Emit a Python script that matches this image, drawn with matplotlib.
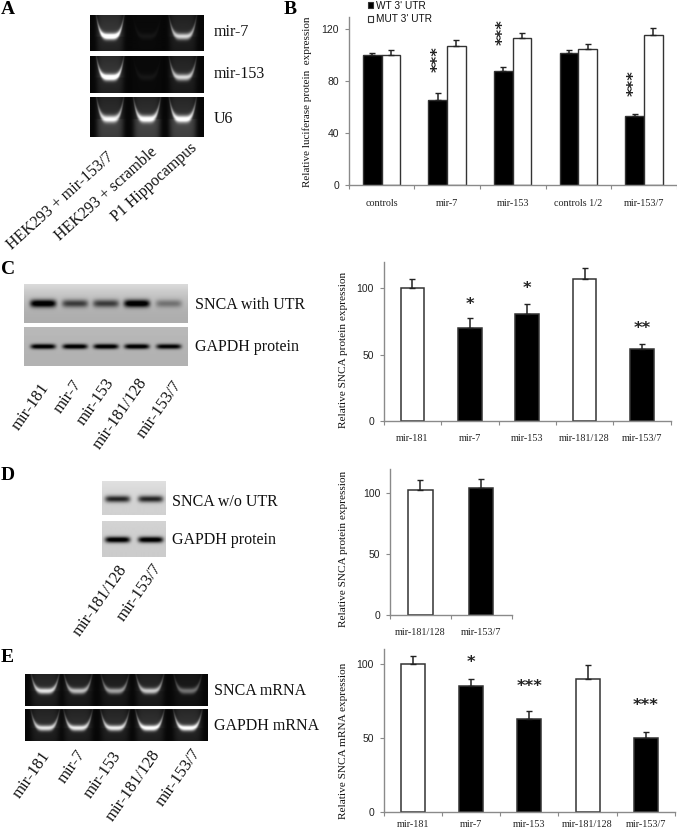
import numpy as np
import matplotlib
matplotlib.use("Agg")
import matplotlib.pyplot as plt

W, H = 677, 831
SERIF = "Liberation Serif"
SANS = "Liberation Sans"

# panel B
b_cats = ["controls", "mir-7", "mir-153", "controls 1/2", "mir-153/7"]
b_wt = [100, 66, 88, 102, 53]
b_wt_top = [102, 71, 91, 104, 55]
b_mut = [100, 107, 113, 105, 116]
b_mut_top = [104, 111.5, 117, 109, 121]
b_stars = [None, 97, 117.5, None, 78.5]

# panel C
c_cats = ["mir-181", "mir-7", "mir-153", "mir-181/128", "mir-153/7"]
c_vals = [100, 70, 81, 107, 54]
c_tops = [107, 77.5, 88, 115, 58]
c_fill = ["w", "k", "k", "w", "k"]
c_stars = [None, ("*", 87.7), ("*", 99.7), None, ("**", 70)]

# panel D
d_cats = ["mir-181/128", "mir-153/7"]
d_vals = [103, 104]
d_tops = [110.5, 112]
d_fill = ["w", "k"]

# panel E
e_cats = ["mir-181", "mir-7", "mir-153", "mir-181/128", "mir-153/7"]
e_vals = [100, 85, 63, 90, 50]
e_tops = [105, 90, 68, 99, 54]
e_fill = ["w", "k", "k", "w", "k"]
e_stars = [None, ("*", 100.9), ("***", 84.5), None, ("***", 71.7)]

# band strength per lane on the gels and blots
a_mir7 = [1.0, 0.05, 0.7]
a_mir153 = [1.0, 0.05, 0.7]
a_u6 = [0.8, 0.85, 0.85]
c_snca = [0.85, 0.5, 0.5, 0.85, 0.28]
c_gapdh = [0.8, 0.8, 0.8, 0.8, 0.75]
d_snca = [0.7, 0.7]
d_gapdh = [0.9, 0.9]
e_snca = [0.75, 0.62, 0.52, 0.66, 0.36]
e_gapdh = [0.75, 0.78, 0.78, 0.88, 0.88]

fig = plt.figure(figsize=(W / 100, H / 100), dpi=100)


def px_axes(x0, y0, x1, y1):
    return fig.add_axes([x0 / W, 1 - y1 / H, (x1 - x0) / W, (y1 - y0) / H])


def px_text(x, y, s, **kw):
    kw.setdefault("family", SERIF)
    kw.setdefault("color", "#111111")
    return fig.text(x / W, 1 - y / H, s, **kw)


def fluor_gel(rect, centers, amps, band_y, half_w=13.5, below=0.1):
    x0, y0, x1, y1 = rect
    xs = np.linspace(x0, x1, int(x1 - x0) * 2)
    ys = np.linspace(0, 1, int(y1 - y0) * 2)
    xx, yy = np.meshgrid(xs, ys)
    img = np.full(xx.shape, 0.03)
    for c, a in zip(centers, amps):
        u = (xx - c) / half_w
        env = np.exp(-np.abs(u) ** 6)
        curve = band_y - 0.5 * np.abs(u) ** 4
        band = np.exp(-((yy - curve) / 0.09) ** 2) * (1 - 0.55 * np.minimum(np.abs(u), 1) ** 3)
        haze = np.where(yy < band_y, 0.14 + 0.12 * yy, below + 0.1 * (1 - yy))
        img += a * env * (band + haze)
    ax = px_axes(*rect)
    ax.imshow(np.clip(img, 0, 1), cmap="gray", vmin=0, vmax=1, aspect="auto",
              interpolation="bilinear")
    ax.axis("off")


def blot(rect, centers, amps, band_y, bg=0.72, half_w=13, thick=0.07, top=0.08):
    x0, y0, x1, y1 = rect
    xs = np.linspace(x0, x1, int(x1 - x0) * 2)
    ys = np.linspace(0, 1, int(y1 - y0) * 2)
    xx, yy = np.meshgrid(xs, ys)
    img = bg + top * (1 - yy) ** 2
    for c, a in zip(centers, amps):
        u = (xx - c) / half_w
        img = img - a * np.exp(-u ** 6) * np.exp(-((yy - band_y) / thick) ** 2)
    ax = px_axes(*rect)
    ax.imshow(np.clip(img, 0, 1), cmap="gray", vmin=0, vmax=1, aspect="auto",
              interpolation="bilinear")
    ax.axis("off")


def slanted(labels, ends, angle=55, size=12):
    for s, (x, y) in zip(labels, ends):
        px_text(x, y, s, rotation=angle, rotation_mode="anchor", ha="right",
                va="center", fontsize=size)


def style_axes(ax, cats, yticks, ymax, pad=9):
    n = len(cats)
    ax.set_xlim(0, n)
    ax.set_ylim(0, ymax)
    for side in ("top", "right"):
        ax.spines[side].set_visible(False)
    for side in ("left", "bottom"):
        ax.spines[side].set_color("#8a8a8a")
        ax.spines[side].set_linewidth(1.0)
    ax.set_xticks(range(n + 1))
    ax.set_xticklabels([])
    ax.set_xticks(np.arange(n) + 0.5, minor=True)
    ax.set_xticklabels(cats, minor=True, family=SERIF, fontsize=7.3, color="#222222")
    ax.tick_params(axis="x", which="major", length=3, width=0.8, color="#8a8a8a")
    ax.tick_params(axis="x", which="minor", length=0, pad=pad)
    ax.set_yticks(yticks)
    ax.set_yticklabels([str(t) for t in yticks], family=SANS, fontsize=7.5, color="#222222")
    ax.tick_params(axis="y", length=3, width=0.8, color="#8a8a8a", pad=4)
    ax.patch.set_alpha(0)


def single_bars(rect, cats, vals, tops, fill, yticks, ymax, stars=None, width=0.41, pad=9):
    ax = px_axes(*rect)
    style_axes(ax, cats, yticks, ymax, pad)
    xs = np.arange(len(cats)) + 0.5
    ax.bar(xs, vals, width=width, color=fill, edgecolor="#333333", linewidth=1.1)
    errs = [t - v for t, v in zip(tops, vals)]
    ax.errorbar(xs, vals, yerr=[[0] * len(vals), errs], fmt="none", ecolor="#222222",
                elinewidth=1.1, capsize=2.2, capthick=1.0)
    if stars:
        for x, st in zip(xs, stars):
            if st:
                ax.text(x, st[1], st[0], ha="center", va="center", fontsize=11.8,
                        fontweight="bold", family="DejaVu Sans", color="#222222")
    return ax


# panel A
fluor_gel((90, 15, 204, 50.7), [110, 147, 183], a_mir7, 0.6)
fluor_gel((90, 56, 204, 93), [110, 147, 183], a_mir153, 0.58)
fluor_gel((90, 97.3, 204, 137), [110, 147, 183], a_u6, 0.55, below=0.26)
for y, s in [(32, "mir-7"), (74, "mir-153"), (119, "U6")]:
    px_text(214, y, s, fontsize=11.5, va="center")
slanted(["HEK293 + mir-153/7", "HEK293 + scramble", "P1 Hippocampus"],
        [(112, 155), (155, 150), (195, 146)], angle=42, size=11.5)

# panel B
ax_b = px_axes(348.7, 16.7, 676.7, 185.3)
style_axes(ax_b, b_cats, [0, 40, 80, 120], 129.7, pad=10)
x_b = np.arange(len(b_cats)) + 0.5
bw = 0.285
ax_b.bar(x_b - bw / 2, b_wt, width=bw, color="k", edgecolor="#333333", linewidth=1.0)
ax_b.bar(x_b + bw / 2, b_mut, width=bw, color="w", edgecolor="#333333", linewidth=1.0)
ax_b.errorbar(x_b - bw / 2, b_wt, yerr=[[0] * 5, [t - v for t, v in zip(b_wt_top, b_wt)]],
              fmt="none", ecolor="#222222", elinewidth=1.1, capsize=2.2, capthick=1.0)
ax_b.errorbar(x_b + bw / 2, b_mut, yerr=[[0] * 5, [t - v for t, v in zip(b_mut_top, b_mut)]],
              fmt="none", ecolor="#222222", elinewidth=1.1, capsize=2.2, capthick=1.0)
for x, st in zip(x_b, b_stars):
    if st:
        ax_b.text(x - bw / 2, st, "***", rotation=90, ha="center", va="center",
                  fontsize=11.8, fontweight="bold", family="DejaVu Sans", color="#222222")

# legend of B drawn by hand, it sits partly above the axes
leg = fig.add_axes([0, 0, 1, 1])
leg.set_xlim(0, W)
leg.set_ylim(H, 0)
leg.axis("off")
leg.patch.set_alpha(0)
leg.add_patch(plt.Rectangle((367.5, 2), 5.5, 5.5, fc="k", ec="#333333", lw=0.8))
leg.add_patch(plt.Rectangle((367.5, 16), 5.5, 5.5, fc="w", ec="#333333", lw=0.8))
px_text(376, 6, "WT 3' UTR", family=SANS, fontsize=7.3, va="center")
px_text(376, 19, "MUT 3' UTR", family=SANS, fontsize=7.3, va="center")
px_text(307, 102, "Relative luciferase protein  expression", rotation=90,
        ha="center", va="center", fontsize=8)

# panel C
c_lanes = [43, 75, 106, 137, 169]
blot((24, 284, 188, 323), c_lanes, c_snca, 0.5, bg=0.68, half_w=13, thick=0.1, top=0.18)
blot((24, 327, 188, 366), c_lanes, c_gapdh, 0.5, bg=0.7, half_w=12.5, thick=0.065, top=0.03)
px_text(195, 305, "SNCA with UTR", fontsize=11.5, va="center")
px_text(195, 347, "GAPDH protein", fontsize=11.5, va="center")
slanted(c_cats, [(46, 385), (78, 382), (111, 380), (144, 380), (178, 382)])
single_bars((383.7, 262.3, 670.7, 421.3), c_cats, c_vals, c_tops, c_fill,
            [0, 50, 100], 119.5, c_stars)
px_text(344, 350, "Relative SNCA protein expression", rotation=90, ha="center",
        va="center", fontsize=8.1)

# panel D
d_lanes = [117, 150]
blot((101.7, 481, 165, 515), d_lanes, d_snca, 0.53, bg=0.82, half_w=12.5, thick=0.1, top=0.06)
blot((101.7, 521, 165, 557), d_lanes, d_gapdh, 0.52, bg=0.8, half_w=12.5, thick=0.085, top=0.03)
px_text(172, 502, "SNCA w/o UTR", fontsize=11.5, va="center")
px_text(172, 540, "GAPDH protein", fontsize=11.5, va="center")
slanted(d_cats, [(124, 567), (158, 565)])
single_bars((390, 469, 511.7, 615.3), d_cats, d_vals, d_tops, d_fill,
            [0, 50, 100], 119.9, width=0.4)
px_text(344, 549, "Relative SNCA protein expression", rotation=90, ha="center",
        va="center", fontsize=8.1)

# panel E
e_lanes = [45, 78, 115, 150, 188]
fluor_gel((25, 674, 208, 706), e_lanes, e_snca, 0.55, half_w=14)
fluor_gel((25, 709, 208, 741), e_lanes, e_gapdh, 0.6, half_w=14)
px_text(214, 691, "SNCA mRNA", fontsize=11.5, va="center")
px_text(214, 726, "GAPDH mRNA", fontsize=11.5, va="center")
slanted(e_cats, [(47, 753), (82, 752), (118, 753), (157, 752), (197, 750)])
single_bars((383.7, 649.3, 675, 812), e_cats, e_vals, e_tops, e_fill,
            [0, 50, 100], 109.7, e_stars, pad=6)
px_text(344, 741, "Relative SNCA mRNA expression", rotation=90, ha="center",
        va="center", fontsize=8.1)

# panel letters
for x, y, s in [(1, 10, "A"), (284, 9, "B"), (1, 270, "C"), (1, 475, "D"), (1, 657, "E")]:
    px_text(x, y, s, fontsize=14, fontweight="bold", va="center", color="k")

fig.savefig("out.png", dpi=100)
